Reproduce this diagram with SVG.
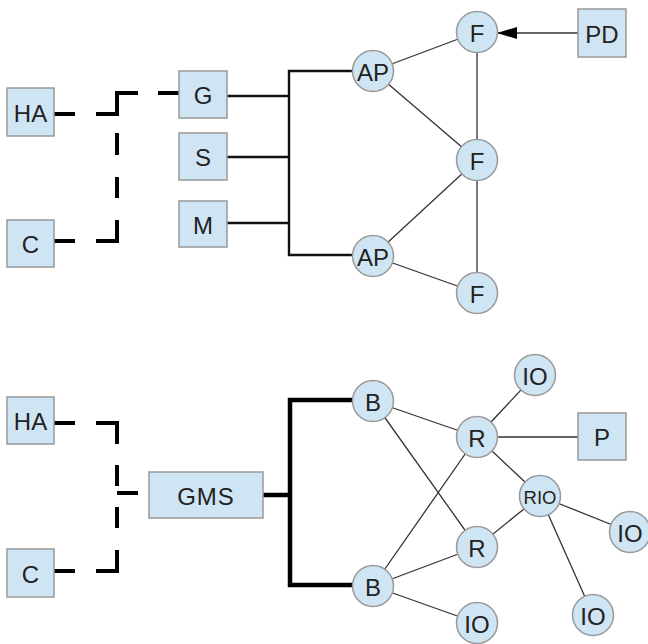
<svg xmlns="http://www.w3.org/2000/svg" width="648" height="644" viewBox="0 0 648 644">
<defs>
<style>
.box{fill:#cfe5f3;stroke:#999;stroke-width:1.5}
.t{font-family:"Liberation Sans",Arial,sans-serif;font-size:24px;fill:#222;text-anchor:middle;dominant-baseline:central}
.ts{font-size:18.5px}
.thin{stroke:#333;stroke-width:1.3;fill:none}
.bus{stroke:#111;stroke-width:2.4;fill:none}
.bus2{stroke:#000;stroke-width:4.5;fill:none}
.dash{stroke:#000;stroke-width:4;fill:none;stroke-linejoin:miter}
</style>
<marker id="arr" viewBox="0 0 20 12" refX="20" refY="6" markerWidth="20" markerHeight="12" markerUnits="userSpaceOnUse" orient="auto">
<path d="M0,0 L20,6 L0,12 Z" fill="#000"/>
</marker>
</defs>
<g id="connectors">
<path class="dash" d="M54,114 H75 M96,114 H117 V93 H138 M158,93 H179"/>
<path class="dash" d="M54,241 H75 M96,241 H117 V220 M117,198 V177 M117,155 V133"/>
<path class="bus" d="M353,71 H289 V255 H353 M227,96 H289 M227,157 H289 M227,223 H289"/>
<path class="thin" d="M578,33 H497" marker-end="url(#arr)"/>
<path class="thin" d="M373,71 L477,32 M373,71 L477,160 M477,32 V160 M477,160 L373,256 M477,160 V293 M373,256 L477,293"/>
<path class="dash" d="M54,423 H75 M96,423 H117 V444 M117,465 V486 M117,507 V528 M96,571 H117 V550 M54,571 H75 M117,493 H138"/>
<path class="bus2" d="M353,400 H290 V585 H353 M263,495 H290"/>
<path class="thin" d="M373,401 L477,437 M373,401 L477,547 M373,586 L477,437 M373,586 L477,547 M373,586 L477,623 M477,437 L535,375 M477,437 H578 M477,437 L540,496 M540,496 L477,547 M540,496 L630,532 M540,496 L593,615"/>
</g>
<g id="n-ha1"><rect class="box" x="7" y="88" width="47" height="48"/><text class="t" x="30.5" y="113">HA</text></g>
<g id="n-c1"><rect class="box" x="7" y="220" width="47" height="47"/><text class="t" x="30.5" y="244.5">C</text></g>
<g id="n-g"><rect class="box" x="179" y="71" width="48" height="47"/><text class="t" x="203" y="95.5">G</text></g>
<g id="n-s"><rect class="box" x="179" y="133" width="48" height="47"/><text class="t" x="203" y="157.5">S</text></g>
<g id="n-m"><rect class="box" x="179" y="201" width="48" height="46"/><text class="t" x="203" y="225">M</text></g>
<g id="n-ap1"><circle class="box" cx="373" cy="71" r="20.5"/><text class="t" x="373" y="72">AP</text></g>
<g id="n-ap2"><circle class="box" cx="373" cy="256" r="20.5"/><text class="t" x="373" y="257">AP</text></g>
<g id="n-f1"><circle class="box" cx="477" cy="32" r="20.5"/><text class="t" x="477" y="33">F</text></g>
<g id="n-f2"><circle class="box" cx="477" cy="160" r="20.5"/><text class="t" x="477" y="161">F</text></g>
<g id="n-f3"><circle class="box" cx="477" cy="293" r="20.5"/><text class="t" x="477" y="294">F</text></g>
<g id="n-pd"><rect class="box" x="578" y="9" width="48" height="48"/><text class="t" x="602" y="34">PD</text></g>
<g id="n-ha2"><rect class="box" x="7" y="397" width="47" height="47"/><text class="t" x="30.5" y="421.5">HA</text></g>
<g id="n-c2"><rect class="box" x="7" y="549" width="47" height="48"/><text class="t" x="30.5" y="574">C</text></g>
<g id="n-gms"><rect class="box" x="149" y="472" width="114" height="46"/><text class="t" x="206" y="496" letter-spacing="1">GMS</text></g>
<g id="n-b1"><circle class="box" cx="373" cy="401" r="20.5"/><text class="t" x="373" y="402">B</text></g>
<g id="n-b2"><circle class="box" cx="373" cy="586" r="20.5"/><text class="t" x="373" y="587">B</text></g>
<g id="n-r1"><circle class="box" cx="477" cy="437" r="20.5"/><text class="t" x="477" y="438">R</text></g>
<g id="n-r2"><circle class="box" cx="477" cy="547" r="20.5"/><text class="t" x="477" y="548">R</text></g>
<g id="n-io1"><circle class="box" cx="535" cy="375" r="20.5"/><text class="t" x="535" y="376">IO</text></g>
<g id="n-p"><rect class="box" x="578" y="413" width="48" height="47"/><text class="t" x="602" y="437.5">P</text></g>
<g id="n-rio"><circle class="box" cx="540" cy="496" r="20.5"/><text class="t ts" x="540" y="497">RIO</text></g>
<g id="n-io2"><circle class="box" cx="630" cy="532" r="20.5"/><text class="t" x="630" y="533">IO</text></g>
<g id="n-io3"><circle class="box" cx="593" cy="615" r="20.5"/><text class="t" x="593" y="616">IO</text></g>
<g id="n-io4"><circle class="box" cx="477" cy="623" r="20.5"/><text class="t" x="477" y="624">IO</text></g>
</svg>
